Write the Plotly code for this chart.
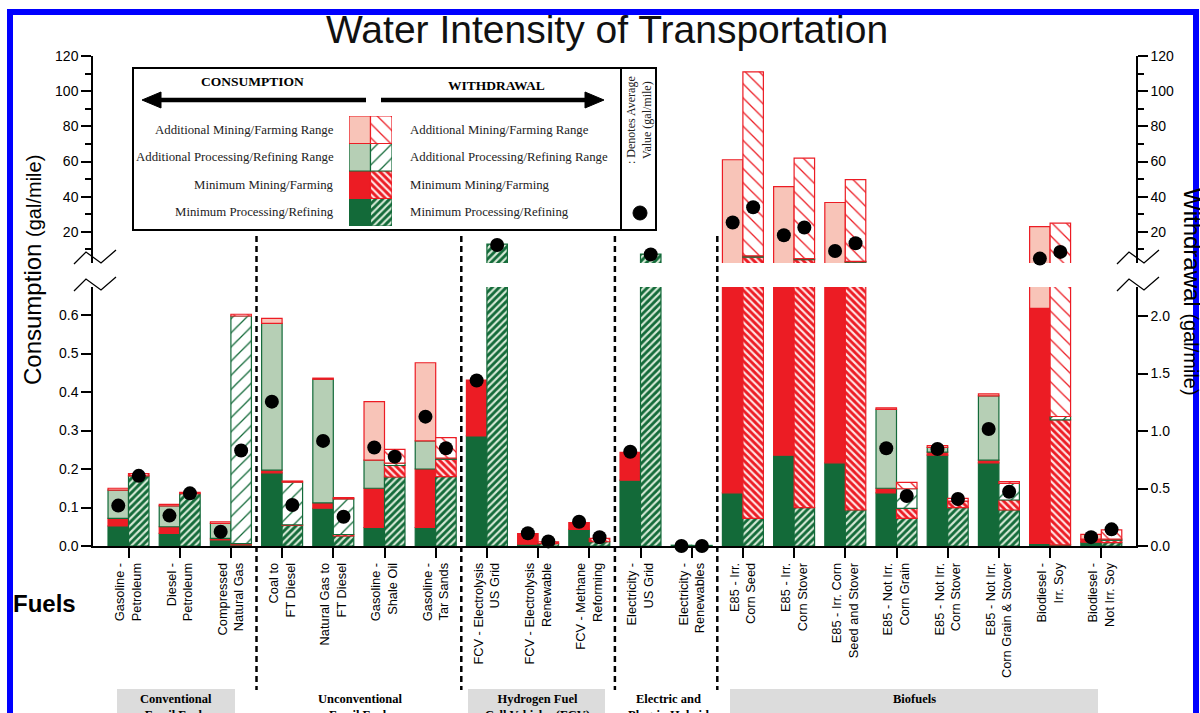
import numpy as np
import plotly.graph_objects as go

# ---------------- data ----------------
fuels = ["Gasoline -<br>Petroleum", "Diesel -<br>Petroleum", "Compressed<br>Natural Gas",
         "Coal to<br>FT Diesel", "Natural Gas to<br>FT Diesel", "Gasoline -<br>Shale Oil",
         "Gasoline -<br>Tar Sands",
         "FCV - Electrolysis<br>US Grid", "FCV - Electrolysis<br>Renewable", "FCV - Methane<br>Reforming",
         "Electricity -<br>US Grid", "Electricity -<br>Renewables",
         "E85 - Irr.<br>Corn Seed", "E85 - Irr.<br>Corn Stover", "E85 - Irr. Corn<br>Seed and Stover",
         "E85 - Not Irr.<br>Corn Grain", "E85 - Not Irr.<br>Corn Stover", "E85 - Not Irr.<br>Corn Grain & Stover",
         "Biodiesel -<br>Irr. Soy", "Biodiesel -<br>Not Irr. Soy"]

# consumption (gal/mile) segments, stacked bottom -> top
cons_min_proc = [0.052, 0.033, 0.016, 0.190, 0.098, 0.048, 0.048, 0.286, 0.005, 0.043,
                 0.171, 0.002, 0.138, 0.236, 0.216, 0.138, 0.236, 0.216, 0.007, 0.010]
cons_min_mine = [0.020, 0.017, 0.004, 0.007, 0.014, 0.102, 0.152, 0.145, 0.027, 0.018,
                 0.072, 0.0, 1.06, 0.96, 0.98, 0.012, 0.008, 0.007, 0.61, 0.008]
cons_add_proc = [0.073, 0.054, 0.039, 0.381, 0.321, 0.073, 0.073, 0.0, 0.0, 0.0,
                 0.0, 0.0, 0.0, 0.0, 0.0, 0.205, 0.012, 0.167, 0.0, 0.0]
cons_add_mine = [0.005, 0.004, 0.004, 0.013, 0.003, 0.152, 0.203, 0.0, 0.0, 0.0,
                 0.0, 0.0, 59.8, 44.5, 35.5, 0.004, 0.005, 0.005, 22.4, 0.012]
cons_avg = [0.105, 0.079, 0.037, 0.375, 0.273, 0.256, 0.336, 0.43, 0.033, 0.063,
            0.245, 0.0, 25.3, 18.1, 9.1, 0.254, 0.252, 0.304, 4.8, 0.023]

# withdrawal (gal/mile) segments, stacked bottom -> top
wd_min_proc = [0.610, 0.455, 0.010, 0.180, 0.087, 0.600, 0.603, 13.0, 0.020, 0.037,
               7.4, 0.005, 0.241, 0.333, 0.313, 0.241, 0.333, 0.313, 0.010, 0.030]
wd_min_mine = [0.020, 0.012, 0.010, 0.005, 0.013, 0.100, 0.151, 0.0, 0.017, 0.030,
               0.0, 0.0, 5.36, 3.9, 2.5, 0.087, 0.058, 0.087, 1.086, 0.020]
wd_add_proc = [0.0, 0.0, 1.980, 0.370, 0.309, 0.020, 0.010, 0.0, 0.0, 0.0,
               0.0, 0.0, 0.8, 0.6, 0.4, 0.170, 0.0, 0.145, 0.03, 0.010]
wd_add_mine = [0.0, 0.0, 0.015, 0.010, 0.011, 0.120, 0.179, 0.0, 0.0, 0.0,
               0.0, 0.0, 104.6, 57.07, 46.5, 0.056, 0.024, 0.015, 23.8, 0.080]
wd_avg = [0.61, 0.458, 0.83, 0.357, 0.255, 0.777, 0.85, 12.5, 0.04, 0.076,
          7.2, 0.0, 34.0, 22.5, 13.5, 0.435, 0.409, 0.472, 8.6, 0.145]

seg_names = ["Minimum Processing/Refining", "Minimum Mining/Farming",
             "Additional Processing/Refining Range", "Additional Mining/Farming Range"]

group_names = ["Conventional<br>Fossil Fuels", "Unconventional<br>Fossil Fuels",
               "Hydrogen Fuel<br>Cell Vehicles (FCV)", "Electric and<br>Plug-in Hybrid", "Biofuels"]
group_first = [0, 3, 7, 10, 12]
group_last = [2, 6, 9, 11, 19]

y_ticks_upper = [20, 40, 60, 80, 100, 120]

# ---------------- layout geometry (pixels) ----------------
FW, FH = 1200, 713
L, R, T, B = 93, 1136, 56, 546
PW, PH = R - L, B - T


def fx(px):
    return (px - L) / PW


def fy(py):
    return (B - py) / PH


CAT0_PX, CAT_STEP = 128.5, 51.2
x_range = [(L - CAT0_PX) / CAT_STEP, (R - CAT0_PX) / CAT_STEP]
LOW_TOP = 287
UP_BOT = 263
low_left_range = [0, (B - LOW_TOP) / 385.0]
low_right_range = [0, (B - LOW_TOP) / 115.0]
up_range = [2.3, 120]

DKG = "#136a39"
RED = "#ec1c24"
LTG = "#b6cfb5"
PINK = "#f8c4b8"
SANS = "Liberation Sans, Arial, sans-serif"
SERIF = "Liberation Serif, Times New Roman, serif"

cons_style = [(DKG, DKG), (RED, RED), (LTG, DKG), (PINK, RED)]
wd_pattern = [dict(shape="/", bgcolor=DKG, fgcolor="#d6e9d6", size=5, solidity=0.42),
              dict(shape="\\", bgcolor=RED, fgcolor="#ffe4e4", size=5, solidity=0.42),
              dict(shape="/", bgcolor="white", fgcolor=DKG, size=10, solidity=0.13),
              dict(shape="\\", bgcolor="white", fgcolor=RED, size=10, solidity=0.13)]
wd_line = [DKG, RED, DKG, RED]

n = len(fuels)
xc = np.arange(n, dtype=float)
OFF, BW = 0.2, 0.4

cons = np.array([cons_min_proc, cons_min_mine, cons_add_proc, cons_add_mine])
wd = np.array([wd_min_proc, wd_min_mine, wd_add_proc, wd_add_mine])
cons_base = np.vstack([np.zeros(n), np.cumsum(cons, axis=0)[:-1]])
wd_base = np.vstack([np.zeros(n), np.cumsum(wd, axis=0)[:-1]])


def seg(xs, vals, bases, floor):
    # keep only segments that reach into the visible range of the panel
    keep = [i for i in range(len(vals)) if vals[i] > 0 and bases[i] + vals[i] > floor]
    return ([float(xs[i]) for i in keep], [float(vals[i]) for i in keep], [float(bases[i]) for i in keep])


fig = go.Figure()

for ya_c, ya_w, floor in (("y", "y2", 0.0), ("y3", "y4", up_range[0])):
    for k in range(4):
        fc, lc = cons_style[k]
        sx, sy, sb = seg(xc - OFF, cons[k], cons_base[k], floor)
        fig.add_trace(go.Bar(
            x=sx, y=sy, base=sb, width=BW,
            yaxis=ya_c, xaxis="x", name=seg_names[k], showlegend=False,
            marker=dict(color=fc, line=dict(color=lc, width=1.2))))
    for k in range(4):
        p = dict(wd_pattern[k])
        p["fillmode"] = "replace"
        sx, sy, sb = seg(xc + OFF, wd[k], wd_base[k], floor)
        fig.add_trace(go.Bar(
            x=sx, y=sy, base=sb, width=BW,
            yaxis=ya_w, xaxis="x", name=seg_names[k], showlegend=False,
            marker=dict(color=p["bgcolor"], line=dict(color=wd_line[k], width=1.2), pattern=p)))
    fig.add_trace(go.Scatter(x=xc - OFF, y=cons_avg, mode="markers", yaxis=ya_c, xaxis="x",
                             cliponaxis=False, showlegend=False,
                             marker=dict(color="black", size=14)))
    fig.add_trace(go.Scatter(x=xc + OFF, y=wd_avg, mode="markers", yaxis=ya_w, xaxis="x",
                             cliponaxis=False, showlegend=False,
                             marker=dict(color="black", size=14)))

# legend swatches as a tiny stacked bar chart
for k in range(4):
    fc, lc = cons_style[k]
    fig.add_trace(go.Bar(x=[0], y=[1], base=[k], width=1, xaxis="x2", yaxis="y5",
                         showlegend=False, marker=dict(color=fc, line=dict(color=lc, width=1.2))))
    p = dict(wd_pattern[k])
    p["fillmode"] = "replace"
    fig.add_trace(go.Bar(x=[1], y=[1], base=[k], width=1, xaxis="x2", yaxis="y5",
                         showlegend=False,
                         marker=dict(color=p["bgcolor"], line=dict(color=wd_line[k], width=1.2), pattern=p)))

axis_common = dict(showgrid=False, zeroline=False, showline=True, linecolor="black", linewidth=1.5,
                   ticks="outside", ticklen=10, tickwidth=1.5, tickcolor="black",
                   tickfont=dict(family=SANS, size=14, color="black"))

fig.update_layout(
    width=FW, height=FH, autosize=False,
    margin=dict(l=L, r=FW - R, t=T, b=FH - B),
    paper_bgcolor="white", plot_bgcolor="white",
    barmode="overlay", showlegend=False,
    xaxis=dict(domain=[0, 1], range=x_range, anchor="y",
               tickmode="array", tickvals=xc.tolist(), ticktext=fuels, tickangle=-90,
               showgrid=False, zeroline=False, showline=True, linecolor="black", linewidth=1.5,
               ticks="outside", ticklen=10, tickwidth=1.5, tickcolor="black",
               tickfont=dict(family=SANS, size=12.8, color="black")),
    yaxis=dict(domain=[0, fy(LOW_TOP)], range=low_left_range, anchor="x", side="left",
               tick0=0, dtick=0.1, tickformat=".1f", **axis_common),
    yaxis2=dict(range=low_right_range, overlaying="y", anchor="x", side="right",
                tick0=0, dtick=0.5, tickformat=".1f", **axis_common),
    yaxis3=dict(domain=[fy(UP_BOT), 1], range=up_range, anchor="x", side="left",
                tickmode="array", tickvals=y_ticks_upper,
                minor=dict(dtick=10, tick0=0, ticks="outside", ticklen=6, tickcolor="black", tickwidth=1.5),
                **axis_common),
    yaxis4=dict(range=up_range, overlaying="y3", anchor="x", side="right",
                tickmode="array", tickvals=y_ticks_upper,
                minor=dict(dtick=10, tick0=0, ticks="outside", ticklen=6, tickcolor="black", tickwidth=1.5),
                **axis_common),
    xaxis2=dict(domain=[fx(349), fx(392)], range=[-0.5, 1.5], anchor="y5", visible=False),
    yaxis5=dict(domain=[fy(226), fy(116)], range=[0, 4], anchor="x2", visible=False),
)

shapes = []
ann = []


def A(px, py, text, size, family=SANS, xa="center", ya="middle", angle=0, color="black"):
    ann.append(dict(x=fx(px), y=fy(py), xref="paper", yref="paper", text=text, showarrow=False,
                    xanchor=xa, yanchor=ya, textangle=angle,
                    font=dict(family=family, size=size, color=color)))


# blue frame
shapes.append(dict(type="rect", xref="paper", yref="paper", x0=fx(10), x1=fx(1196), y0=fy(740), y1=fy(12),
                   line=dict(color="#0000ff", width=6), fillcolor="rgba(0,0,0,0)"))

# group separators (dashed)
for g in range(len(group_names) - 1):
    xs = (group_last[g] + group_first[g + 1]) / 2
    shapes.append(dict(type="line", xref="x", yref="paper", x0=xs, x1=xs, y0=fy(236), y1=fy(690),
                       line=dict(color="black", width=2.5, dash="6px,4px")))

# group label boxes and text
group_box_px = [(117, 235), None, (468, 605), None, (730, 1098)]
group_text_px = [176, 360, 537, 668, 914]
for g, name in enumerate(group_names):
    if group_box_px[g] is not None:
        a, b = group_box_px[g]
        shapes.append(dict(type="rect", xref="paper", yref="paper", x0=fx(a), x1=fx(b), y0=fy(740), y1=fy(689),
                           line=dict(width=0), fillcolor="#dcdcdc", layer="below"))
    A(group_text_px[g], 690, "<b>%s</b>" % name, 12.5, family=SERIF, ya="top")

# axis break marks
def path(pts):
    return "M " + " L ".join("%.5f,%.5f" % (fx(x), fy(y)) for x, y in pts)

zig = [(-19, 6), (-7, -6), (8, 5), (23, -8)]
for axis_px in (L, R):
    for cy in (258, 285):
        pts = [(axis_px + dx, cy + dy) for dx, dy in zig]
        shapes.append(dict(type="path", xref="paper", yref="paper", path=path(pts),
                           line=dict(color="black", width=1.3)))

# legend box
shapes.append(dict(type="rect", xref="paper", yref="paper", x0=fx(133), x1=fx(656), y0=fy(230), y1=fy(68),
                   line=dict(color="black", width=2), fillcolor="rgba(0,0,0,0)"))
shapes.append(dict(type="line", xref="paper", yref="paper", x0=fx(621), x1=fx(621), y0=fy(230), y1=fy(68),
                   line=dict(color="black", width=2)))
# arrows
shapes.append(dict(type="line", xref="paper", yref="paper", x0=fx(158), x1=fx(366), y0=fy(100), y1=fy(100),
                   line=dict(color="black", width=4.5)))
shapes.append(dict(type="path", xref="paper", yref="paper",
                   path=path([(142, 100), (161, 92), (161, 108)]) + " Z",
                   fillcolor="black", line=dict(color="black", width=1)))
shapes.append(dict(type="line", xref="paper", yref="paper", x0=fx(381), x1=fx(588), y0=fy(100), y1=fy(100),
                   line=dict(color="black", width=4.5)))
shapes.append(dict(type="path", xref="paper", yref="paper",
                   path=path([(604, 100), (585, 92), (585, 108)]) + " Z",
                   fillcolor="black", line=dict(color="black", width=1)))
# legend dot
shapes.append(dict(type="circle", xref="paper", yref="paper", x0=fx(633), x1=fx(647), y0=fy(220), y1=fy(206),
                   fillcolor="black", line=dict(color="black", width=1)))

A(252, 82, "<b>CONSUMPTION</b>", 13.5, family=SERIF)
A(496, 86, "<b>WITHDRAWAL</b>", 13.5, family=SERIF)
row_y = [129.75, 157.25, 184.75, 212.25]
for i, k in enumerate([3, 2, 1, 0]):
    A(336, row_y[i], seg_names[k], 12.8, family=SERIF, xa="right", color="#222")
    A(408, row_y[i], seg_names[k], 12.8, family=SERIF, xa="left", color="#222")
A(639, 120, ": Denotes Average<br>Value (gal/mile)", 12, family=SERIF, angle=-90, color="#222")

# titles
A(607, 29, "Water Intensity of Transportation", 39, color="#111")
A(32, 270, "Consumption <span style='font-size:20px'>(gal/mile)</span>", 24, angle=-90)
A(1193, 292, "Withdrawal <span style='font-size:20px'>(gal/mile)</span>", 24, angle=90)
A(11, 603, "<b>Fuels</b>", 24, xa="left")

fig.update_layout(shapes=shapes, annotations=ann)
fig.write_html("out.html", config={"displayModeBar": False},
               post_script="document.body.style.margin='0px';document.body.style.padding='0px';"
                           "document.body.style.overflow='hidden';")
